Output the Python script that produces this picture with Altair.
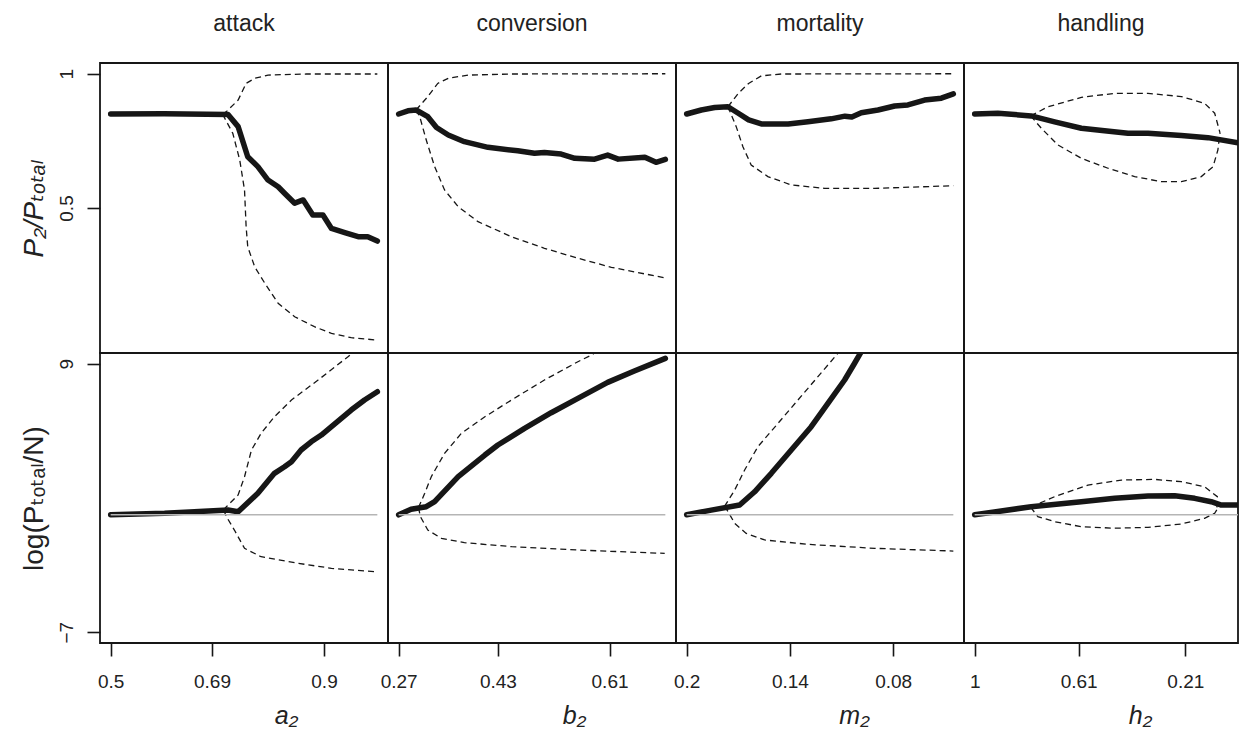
import altair as alt
import pandas as pd

FONT = "Liberation Sans, Arial, Helvetica, DejaVu Sans, sans-serif"
INK = "#161616"
TEXT = "#222222"

COLUMNS = ["attack", "conversion", "mortality", "handling"]
X_TITLES = ["a₂", "b₂", "m₂", "h₂"]
X_TICKS = [[0.5, 0.69, 0.9], [0.27, 0.43, 0.61], [0.2, 0.14, 0.08], [1, 0.61, 0.21]]
Y_TITLES = ["P₂/Pₜₒₜₐₗ", "log(Pₜₒₜₐₗ/N)"]
Y_TICKS = [[0.5, 1], [-7, 9]]

# ---- attack (a2) ----
ATTACK_SHARE_MEAN = [(0.5, 0.85), (0.6, 0.851), (0.72, 0.848), (0.739, 0.803), (0.757, 0.691),
                     (0.776, 0.654), (0.795, 0.604), (0.814, 0.579), (0.826, 0.555), (0.845, 0.518),
                     (0.861, 0.530), (0.879, 0.474), (0.898, 0.474), (0.914, 0.424), (0.939, 0.408),
                     (0.964, 0.393), (0.982, 0.393), (1.0, 0.377)]
ATTACK_SHARE_HIGH = [(0.71, 0.849), (0.717, 0.859), (0.739, 0.902), (0.754, 0.964), (0.77, 0.983),
                     (0.795, 0.995), (0.867, 0.999), (1.0, 0.999)]
ATTACK_SHARE_LOW = [(0.71, 0.849), (0.729, 0.778), (0.742, 0.679), (0.751, 0.567), (0.754, 0.430),
                    (0.757, 0.356), (0.77, 0.281), (0.789, 0.22), (0.814, 0.145), (0.845, 0.095),
                    (0.882, 0.058), (0.914, 0.033), (0.951, 0.017), (1.0, 0.008)]
ATTACK_LOG_MEAN = [(0.5, 0.0), (0.601, 0.09), (0.72, 0.28), (0.739, 0.18), (0.776, 1.28),
                   (0.807, 2.47), (0.826, 2.86), (0.839, 3.16), (0.857, 3.86), (0.876, 4.35),
                   (0.895, 4.75), (0.914, 5.25), (0.951, 6.24), (0.976, 6.84), (1.0, 7.33)]
ATTACK_LOG_HIGH = [(0.712, 0.27), (0.717, 0.48), (0.739, 1.18), (0.751, 2.27), (0.764, 3.86),
                   (0.782, 4.85), (0.807, 5.84), (0.839, 6.84), (0.889, 8.03), (0.945, 9.42),
                   (0.964, 9.94)]
ATTACK_LOG_LOW = [(0.712, 0.27), (0.717, -0.11), (0.732, -0.91), (0.751, -2.0), (0.782, -2.5),
                  (0.851, -2.89), (0.914, -3.19), (0.995, -3.39)]

# ---- conversion (b2) ----
CONV_SHARE_MEAN = [(0.27, 0.85), (0.285, 0.862), (0.298, 0.865), (0.317, 0.84), (0.331, 0.80),
                   (0.35, 0.772), (0.376, 0.747), (0.414, 0.726), (0.462, 0.713), (0.489, 0.704),
                   (0.505, 0.707), (0.532, 0.701), (0.554, 0.685), (0.586, 0.682), (0.607, 0.697),
                   (0.624, 0.682), (0.667, 0.689), (0.685, 0.67), (0.70, 0.681)]
CONV_SHARE_HIGH = [(0.298, 0.865), (0.317, 0.915), (0.333, 0.964), (0.35, 0.983), (0.382, 0.995),
                   (0.452, 0.999), (0.70, 1.0)]
CONV_SHARE_LOW = [(0.298, 0.865), (0.304, 0.84), (0.3145, 0.753), (0.328, 0.654), (0.344, 0.567),
                  (0.366, 0.505), (0.398, 0.449), (0.452, 0.393), (0.505, 0.35), (0.559, 0.313),
                  (0.613, 0.279), (0.699, 0.24)]
CONV_LOG_MEAN = [(0.27, 0.0), (0.29, 0.33), (0.3145, 0.48), (0.328, 0.78), (0.366, 2.27),
                 (0.409, 3.56), (0.43, 4.16), (0.473, 5.15), (0.516, 6.08), (0.559, 6.94),
                 (0.607, 7.89), (0.65, 8.57), (0.70, 9.32)]
CONV_LOG_HIGH = [(0.302, 0.43), (0.312, 1.28), (0.3226, 2.27), (0.344, 3.66), (0.371, 4.85),
                 (0.409, 5.84), (0.452, 6.84), (0.505, 8.03), (0.559, 9.12), (0.581, 9.52),
                 (0.607, 10.2)]
CONV_LOG_LOW = [(0.302, 0.43), (0.305, -0.11), (0.317, -0.91), (0.339, -1.40), (0.376, -1.66),
                (0.452, -1.90), (0.559, -2.10), (0.699, -2.30)]

# ---- mortality (m2, decreasing) ----
MORT_SHARE_MEAN = [(0.2, 0.85), (0.1915, 0.865), (0.1837, 0.874), (0.176, 0.877), (0.170, 0.853),
                   (0.164, 0.828), (0.1566, 0.813), (0.141, 0.813), (0.1295, 0.821), (0.116, 0.832),
                   (0.108, 0.842), (0.104, 0.839), (0.0985, 0.855), (0.0888, 0.865), (0.0791, 0.88),
                   (0.0714, 0.884), (0.0617, 0.902), (0.052, 0.909), (0.045, 0.925)]
MORT_SHARE_HIGH = [(0.176, 0.877), (0.170, 0.927), (0.164, 0.964), (0.1566, 0.992), (0.145, 0.999),
                   (0.045, 1.0)]
MORT_SHARE_LOW = [(0.176, 0.877), (0.1712, 0.803), (0.1673, 0.728), (0.1625, 0.66), (0.1528, 0.617),
                  (0.1392, 0.586), (0.1198, 0.573), (0.0907, 0.573), (0.045, 0.583)]
MORT_LOG_MEAN = [(0.2, 0.0), (0.1857, 0.28), (0.1692, 0.58), (0.1605, 1.37), (0.1508, 2.47),
                 (0.1392, 3.86), (0.1276, 5.25), (0.1179, 6.64), (0.1082, 8.03), (0.1024, 9.03),
                 (0.0985, 9.72), (0.0946, 10.4)]
MORT_LOG_HIGH = [(0.178, 0.5), (0.1721, 1.47), (0.1663, 2.67), (0.1586, 4.06), (0.1469, 5.45),
                 (0.1353, 6.84), (0.1237, 8.23), (0.1121, 9.62), (0.105, 10.3)]
MORT_LOG_LOW = [(0.178, 0.5), (0.176, 0.2), (0.1721, -0.51), (0.1654, -1.11), (0.1547, -1.50),
                (0.1295, -1.76), (0.0907, -2.0), (0.045, -2.16)]

# ---- handling (h2, decreasing) ----
HAND_SHARE_MEAN = [(1.0, 0.85), (0.913, 0.853), (0.788, 0.843), (0.70, 0.821), (0.60, 0.797),
                   (0.513, 0.788), (0.425, 0.778), (0.35, 0.778), (0.225, 0.77), (0.125, 0.762),
                   (0.013, 0.743), (0.0, 0.74)]
HAND_SHARE_HIGH = [(0.79, 0.843), (0.725, 0.877), (0.6, 0.912), (0.475, 0.927), (0.35, 0.927),
                   (0.225, 0.915), (0.138, 0.89), (0.10, 0.853), (0.08, 0.78)]
HAND_SHARE_LOW = [(0.79, 0.843), (0.75, 0.797), (0.688, 0.735), (0.60, 0.685), (0.5, 0.648),
                  (0.40, 0.617), (0.30, 0.598), (0.225, 0.598), (0.15, 0.617), (0.106, 0.654),
                  (0.088, 0.716), (0.08, 0.78)]
HAND_LOG_MEAN = [(1.0, 0.0), (0.788, 0.48), (0.60, 0.78), (0.475, 0.98), (0.35, 1.12),
                 (0.25, 1.14), (0.175, 0.98), (0.113, 0.78), (0.075, 0.58), (0.013, 0.58),
                 (0.0, 0.58)]
HAND_LOG_HIGH = [(0.79, 0.45), (0.70, 1.08), (0.575, 1.77), (0.45, 2.07), (0.325, 2.11),
                 (0.225, 1.97), (0.138, 1.67), (0.09, 1.08), (0.092, 0.3)]
HAND_LOG_LOW = [(0.79, 0.45), (0.763, -0.11), (0.70, -0.41), (0.60, -0.71), (0.475, -0.8),
                (0.35, -0.75), (0.225, -0.55), (0.138, -0.21), (0.10, 0.09), (0.092, 0.3)]

# sweep range of each parameter (grey reference line at log ratio 0 spans it)
SWEEP = [(0.5, 1.0), (0.27, 0.70), (0.2, 0.045), (1.0, 0.0)]

SHARE = [
    (ATTACK_SHARE_MEAN, ATTACK_SHARE_HIGH, ATTACK_SHARE_LOW),
    (CONV_SHARE_MEAN, CONV_SHARE_HIGH, CONV_SHARE_LOW),
    (MORT_SHARE_MEAN, MORT_SHARE_HIGH, MORT_SHARE_LOW),
    (HAND_SHARE_MEAN, HAND_SHARE_HIGH, HAND_SHARE_LOW),
]
LOGR = [
    (ATTACK_LOG_MEAN, ATTACK_LOG_HIGH, ATTACK_LOG_LOW),
    (CONV_LOG_MEAN, CONV_LOG_HIGH, CONV_LOG_LOW),
    (MORT_LOG_MEAN, MORT_LOG_HIGH, MORT_LOG_LOW),
    (HAND_LOG_MEAN, HAND_LOG_HIGH, HAND_LOG_LOW),
]

# scale set-up (R style: data range padded by 4 %)
X_DOMAINS = [[0.48, 1.02], [0.2528, 0.7172], [0.0388, 0.2062], [0.0125, 1.04]]
X_REVERSED = [False, False, True, True]
Y_DOMAINS = [[-0.04, 1.04], [-7.64, 9.64]]
PANEL_W = [288, 288, 288, 274]
PANEL_H = 290
X_TITLE_POS = [186, 186, 178, 176]

LABEL_EXPR = "replace(format(datum.value, '.2~f'), '-', '\u2212')"


def frame(col, row):
    mean, high, low = SHARE[col] if row == 0 else LOGR[col]
    rows = []
    for name, pts in (("mean", mean), ("high", high), ("low", low)):
        for i, (x, y) in enumerate(pts):
            rows.append({"s": name, "i": i, "x": x, "y": y})
    if row == 1:
        for i, x in enumerate(SWEEP[col]):
            rows.append({"s": "base", "i": i, "x": x, "y": 0.0})
    return pd.DataFrame(rows)


def panel(col, row):
    df = frame(col, row)

    if row == 1:
        x_axis = alt.Axis(values=X_TICKS[col], labelExpr=LABEL_EXPR, title=X_TITLES[col],
                          titleFontStyle="italic", titleFontSize=25, titleFontWeight="normal",
                          labelFontSize=19, tickSize=13, labelPadding=16, titlePadding=12,
                          titleBaseline="top", titleX=X_TITLE_POS[col], titleAlign="center")
    else:
        x_axis = None
    if col == 0:
        y_axis = alt.Axis(values=Y_TICKS[row], labelExpr=LABEL_EXPR, title=Y_TITLES[row],
                          titleFontStyle="italic" if row == 0 else "normal",
                          titleFontSize=28, titleFontWeight="normal",
                          labelFontSize=19, labelAngle=270, labelAlign="center",
                          labelBaseline="alphabetic", tickSize=13, labelPadding=15,
                          titlePadding=15, titleBaseline="alphabetic")
    else:
        y_axis = None

    x = alt.X("x:Q", scale=alt.Scale(domain=X_DOMAINS[col], reverse=X_REVERSED[col],
                                     nice=False, zero=False), axis=x_axis)
    y = alt.Y("y:Q", scale=alt.Scale(domain=Y_DOMAINS[row], nice=False, zero=False), axis=y_axis)

    dashed = alt.Chart().mark_line(color=INK, strokeWidth=1.3, strokeDash=[6, 4], clip=True).encode(
        detail="s:N", order="i:Q").transform_filter("datum.s == 'high' || datum.s == 'low'")
    mean = alt.Chart().mark_line(color=INK, strokeWidth=5.5, strokeCap="round", strokeJoin="round",
                                 clip=True).encode(order="i:Q").transform_filter("datum.s == 'mean'")
    layers = [dashed, mean]
    if row == 1:
        base = alt.Chart().mark_line(color="#b5b5b5", strokeWidth=1.6, clip=True).encode(
            order="i:Q").transform_filter("datum.s == 'base'")
        layers.append(base)

    ch = alt.layer(*layers, data=df).encode(x=x, y=y).properties(width=PANEL_W[col], height=PANEL_H)
    if row == 0:
        ch = ch.properties(title=alt.TitleParams(COLUMNS[col], fontSize=23, fontWeight="normal",
                                                 font=FONT, color=TEXT, baseline="alphabetic",
                                                 offset=9, anchor="middle"))
    return ch


panels = [panel(c, r) for r in range(2) for c in range(4)]

chart = alt.concat(*panels, columns=4, spacing=0, bounds="flush", align="each").properties(
    padding={"left": 19, "top": 12, "right": 0, "bottom": 0}
).configure_view(
    stroke=INK, strokeWidth=1.8
).configure_axis(
    labelFont=FONT, titleFont=FONT, labelColor=TEXT, titleColor=TEXT, tickColor=INK,
    tickWidth=1.6, domain=False, grid=False, labelFlush=False, labelOverlap=False, labelBound=False
).configure_title(font=FONT, color=TEXT)

chart.save("out.html", embed_options={"renderer": "svg", "actions": False})
